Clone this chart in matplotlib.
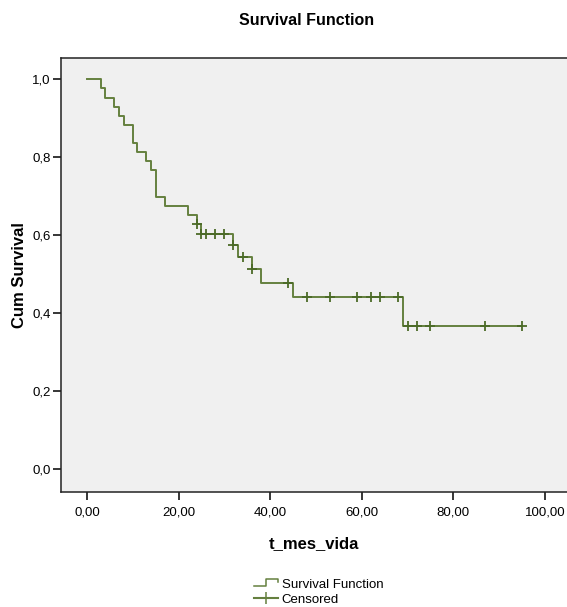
import matplotlib
matplotlib.use("Agg")
import matplotlib.pyplot as plt
from matplotlib.legend_handler import HandlerBase
from matplotlib.lines import Line2D

plt.rcParams['font.family'] = ['Liberation Sans', 'DejaVu Sans']

# Kaplan-Meier steps
step_t = [0, 3, 4, 6, 7, 8, 10, 11, 13, 14, 15, 17, 22, 24, 25,
          32, 33, 36, 38, 45, 69, 95]
step_s = [1.0, 0.977, 0.953, 0.930, 0.907, 0.884, 0.837, 0.814, 0.791,
          0.767, 0.698, 0.674, 0.651, 0.628, 0.604, 0.575, 0.545, 0.513,
          0.478, 0.442, 0.368, 0.368]

# censored cases
cens_t = [24, 25, 26, 28, 30, 32, 34, 36, 44, 48, 53, 59, 62, 64, 68,
          70, 72, 75, 87, 95]
cens_s = [0.628, 0.604, 0.604, 0.604, 0.604, 0.575, 0.545, 0.513, 0.478,
          0.442, 0.442, 0.442, 0.442, 0.442, 0.442,
          0.368, 0.368, 0.368, 0.368, 0.368]

x_ticks = [0, 20, 40, 60, 80, 100]
x_labels = ['0,00', '20,00', '40,00', '60,00', '80,00', '100,00']
y_ticks = [0.0, 0.2, 0.4, 0.6, 0.8, 1.0]
y_labels = ['0,0', '0,2', '0,4', '0,6', '0,8', '1,0']

line_col = '#65803f'
mark_col = '#4b6a27'


class StepHandler(HandlerBase):
    # little step symbol like the SPSS legend
    def create_artists(self, legend, orig_handle, xdescent, ydescent,
                       width, height, fontsize, trans):
        lo = height * 0.15
        hi = height * 0.95
        xs = [0, width * 0.5, width * 0.5, width, width]
        ys = [lo, lo, hi, hi, hi - height * 0.35]
        ln = Line2D(xs, ys, color=line_col, lw=1.1, transform=trans)
        return [ln]


fig = plt.figure(figsize=(5.67, 6.07), dpi=100)
ax = fig.add_axes([0.108, 0.19, 0.892, 0.715])
ax.set_facecolor('#f0f0f0')

ax.step(step_t, step_s, where='post', color=line_col, lw=1.4)
ax.plot(cens_t, cens_s, linestyle='none', marker='+', markersize=7,
        markeredgewidth=1.3, color=mark_col)

ax.set_xlim(-5.6, 104.8)
ax.set_ylim(-0.0574, 1.0554)
ax.set_xticks(x_ticks)
ax.set_xticklabels(x_labels)
ax.set_yticks(y_ticks)
ax.set_yticklabels(y_labels)
ax.tick_params(direction='out', length=5.5, width=1.1, labelsize=9.5,
               colors='black', pad=2)
ax.tick_params(axis='x', pad=5)

for side in ['left', 'bottom', 'top']:
    ax.spines[side].set_linewidth(1.1)
    ax.spines[side].set_color('#222222')
ax.spines['right'].set_visible(False)

ax.set_xlabel('t_mes_vida', fontsize=12, fontweight='bold', labelpad=13)
ax.set_ylabel('Cum Survival', fontsize=12, fontweight='bold', labelpad=4)
fig.text(0.54, 0.967, 'Survival Function', ha='center', va='center',
         fontsize=11.5, fontweight='bold')

h_step = Line2D([], [], color=line_col)
h_cens = Line2D([], [], color=line_col, marker='+', markersize=9,
                markeredgewidth=1.1)
fig.legend([h_step, h_cens], ['Survival Function', 'Censored'],
           handler_map={h_step: StepHandler()},
           loc='upper left', bbox_to_anchor=(0.448, 0.047),
           frameon=False, fontsize=9.5, handlelength=1.8,
           handletextpad=0.3, labelspacing=0.22, borderpad=0,
           borderaxespad=0)

fig.savefig('out.png', dpi=100)
